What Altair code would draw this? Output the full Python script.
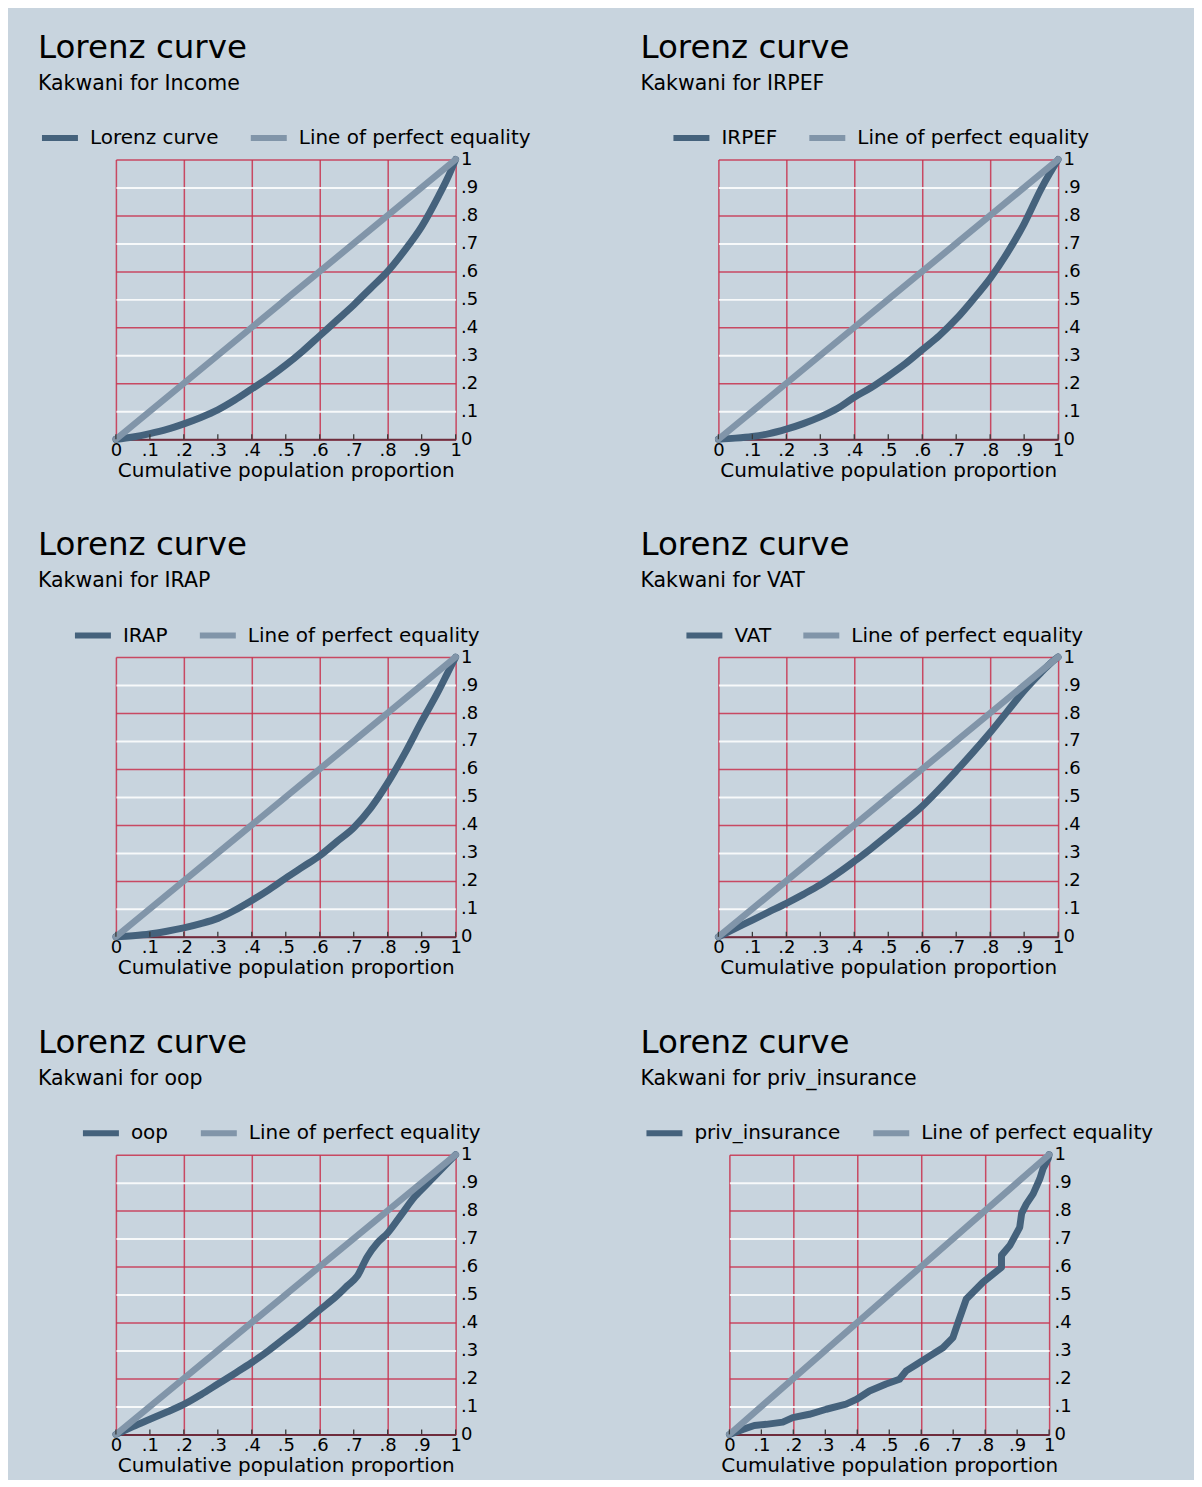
import altair as alt
import pandas as pd

BG = "#c8d4de"
DARK = "#45627c"
LIGHT = "#8195a9"
RED = "#c8304c"
AXIS_DARK = "#6e2c3c"
FONT = "DejaVu Sans"

eq_label = "Line of perfect equality"
main_title = "Lorenz curve"
x_title = "Cumulative population proportion"

tick_values = [0, 0.1, 0.2, 0.3, 0.4, 0.5, 0.6, 0.7, 0.8, 0.9, 1]
tick_labels = ["0", ".1", ".2", ".3", ".4", ".5", ".6", ".7", ".8", ".9", "1"]

grid21 = [0, .05, .1, .15, .2, .25, .3, .35, .4, .45, .5, .55, .6, .65, .7, .75, .8, .85, .9, .95, .975, 1]

income_p = grid21
income_L = [0, .008, .02, .035, .055, .078, .105, .14, .18, .22, .265, .315, .37, .425, .48, .54, .60, .675, .76, .87, .93, 1]

irpef_p = grid21
irpef_L = [0, .004, .01, .02, .036, .056, .08, .11, .15, .185, .226, .27, .32, .37, .43, .5, .575, .665, .77, .895, .95, 1]

irap_p = grid21
irap_L = [0, .004, .01, .02, .032, .047, .066, .095, .13, .168, .21, .25, .29, .34, .39, .46, .55, .655, .77, .88, .94, 1]

vat_p = grid21
vat_L = [0, .03, .06, .09, .12, .152, .186, .226, .27, .316, .365, .415, .467, .528, .593, .66, .73, .805, .88, .945, .975, 1]

oop_p = [0, .05, .1, .15, .2, .25, .3, .35, .4, .45, .5, .55, .6, .65, .68, .71, .74, .77, .8, .84, .88, .92, .96, 1]
oop_L = [0, .028, .054, .08, .107, .142, .18, .218, .257, .3, .347, .395, .445, .495, .53, .565, .635, .685, .72, .785, .85, .9, .95, 1]

priv_p = [0, .042, .078, .115, .167, .198, .25, .303, .365, .397, .438, .49, .532, .553, .585, .626, .668, .699,
          .715, .741, .762, .793, .825, .851, .851, .877, .908, .914, .929, .95, .971, .981, .997, 1]
priv_L = [0, .018, .032, .036, .044, .06, .072, .09, .108, .125, .155, .18, .197, .227, .25, .28, .31, .346,
          .40, .484, .508, .544, .573, .597, .64, .675, .74, .79, .824, .86, .914, .95, .986, 1]

eq_p = [0, 1]
eq_L = [0, 1]

label_js = "[" + ",".join("'%s'" % s for s in tick_labels) + "]"
label_expr = label_js + "[round(datum.value*10)]"
odd = "round(datum.value*10) % 2 == 1"

panels = [
    dict(series="Lorenz curve", sub="Kakwani for Income", p=income_p, L=income_L, w=340, dx=-78, lx=-77, interp="monotone"),
    dict(series="IRPEF", sub="Kakwani for IRPEF", p=irpef_p, L=irpef_L, w=340, dx=-78, lx=-48, interp="monotone"),
    dict(series="IRAP", sub="Kakwani for IRAP", p=irap_p, L=irap_L, w=340, dx=-78, lx=-44, interp="monotone"),
    dict(series="VAT", sub="Kakwani for VAT", p=vat_p, L=vat_L, w=340, dx=-78, lx=-35, interp="monotone"),
    dict(series="oop", sub="Kakwani for oop", p=oop_p, L=oop_L, w=340, dx=-78, lx=-36, interp="monotone"),
    dict(series="priv_insurance", sub="Kakwani for priv_insurance", p=priv_p, L=priv_L, w=320, dx=-89, lx=-86, interp="linear"),
]
H = 280
LEG_Y = -42.5

xaxis = alt.Axis(
    values=tick_values, labelExpr=label_expr, title=x_title,
    grid=True,
    gridColor={"condition": {"test": odd, "value": "transparent"}, "value": RED},
    gridOpacity=0.85, gridWidth=1.5,
    ticks=False, domain=True, domainColor=AXIS_DARK, domainWidth=2,
    labelFont=FONT, labelFontSize=18, labelColor="black", labelPadding=2,
    labelFlush=False, labelOverlap=False,
    titleFont=FONT, titleFontSize=20, titleFontWeight="normal", titleColor="black", titlePadding=1,
)
yaxis = alt.Axis(
    orient="right", values=tick_values, labelExpr=label_expr, title="",
    grid=True,
    gridColor={"condition": {"test": odd, "value": "white"}, "value": RED},
    gridWidth={"condition": {"test": odd, "value": 2}, "value": 1.5},
    gridOpacity=0.85,
    ticks=False, domain=False,
    labelFont=FONT, labelFontSize=18, labelColor="black", labelPadding=5,
    labelFlush=False, labelOverlap=False,
)


def panel(cfg):
    name = cfg["series"]
    curve = pd.DataFrame({"p": cfg["p"], "L": cfg["L"], "series": name})
    curve["i"] = range(len(curve))
    eq = pd.DataFrame({"p": eq_p, "L": eq_L, "series": eq_label})
    eq["i"] = range(len(eq))
    ticks = pd.DataFrame({"p": tick_values})

    sx = alt.Scale(domain=[0, 1], nice=False, zero=False)
    sy = alt.Scale(domain=[0, 1], nice=False, zero=False)
    cscale = alt.Scale(domain=[name, eq_label], range=[DARK, LIGHT])

    legend = alt.Legend(
        orient="none", legendX=cfg["lx"], legendY=LEG_Y, direction="horizontal", title=None,
        symbolType="stroke", symbolSize=1296, symbolStrokeWidth=6,
        labelFont=FONT, labelFontSize=20, labelColor="black", labelOffset=9, labelLimit=0,
        columnPadding=20, padding=0,
    )

    lor = alt.Chart(curve).mark_line(
        strokeWidth=7, strokeCap="round", strokeJoin="round", interpolate=cfg["interp"]
    ).encode(
        x=alt.X("p:Q", scale=sx, axis=xaxis),
        y=alt.Y("L:Q", scale=sy, axis=yaxis),
        color=alt.Color("series:N", scale=cscale, legend=legend),
        order=alt.Order("i:Q"),
    )
    eql = alt.Chart(eq).mark_line(strokeWidth=6.5, strokeCap="round").encode(
        x=alt.X("p:Q", scale=sx, axis=xaxis),
        y=alt.Y("L:Q", scale=sy, axis=yaxis),
        color=alt.Color("series:N", scale=cscale, legend=legend),
        order=alt.Order("i:Q"),
    )
    tk = alt.Chart(ticks).mark_rule(color="#3a3a3a", strokeWidth=1.3).encode(
        x=alt.X("p:Q", scale=sx, axis=xaxis),
        y=alt.value(H),
        y2=alt.value(H - 5),
    )
    return alt.layer(lor, eql, tk).properties(
        width=cfg["w"], height=H,
        title=alt.TitleParams(
            text=main_title, subtitle=cfg["sub"], anchor="start", frame="group",
            dx=cfg["dx"], offset=23, font=FONT, fontSize=32.5, fontWeight="normal", color="black",
            subtitleFont=FONT, subtitleFontSize=20.5, subtitleColor="black", subtitlePadding=9.5,
        ),
    )


p = [panel(c) for c in panels]
row1 = alt.hconcat(p[0], p[1], spacing=263, bounds="flush").resolve_scale(color="independent")
row2 = alt.hconcat(p[2], p[3], spacing=263, bounds="flush").resolve_scale(color="independent")
row3 = alt.hconcat(p[4], p[5], spacing=274, bounds="flush").resolve_scale(color="independent")

chart = alt.vconcat(row1, row2, row3, spacing=498, bounds="flush").resolve_scale(
    color="independent"
).properties(
    padding={"left": 30, "top": 23, "right": 40, "bottom": 4},
    background=BG,
).configure_view(stroke=None)

chart.save("out.html", embed_options={"renderer": "svg", "actions": False})
